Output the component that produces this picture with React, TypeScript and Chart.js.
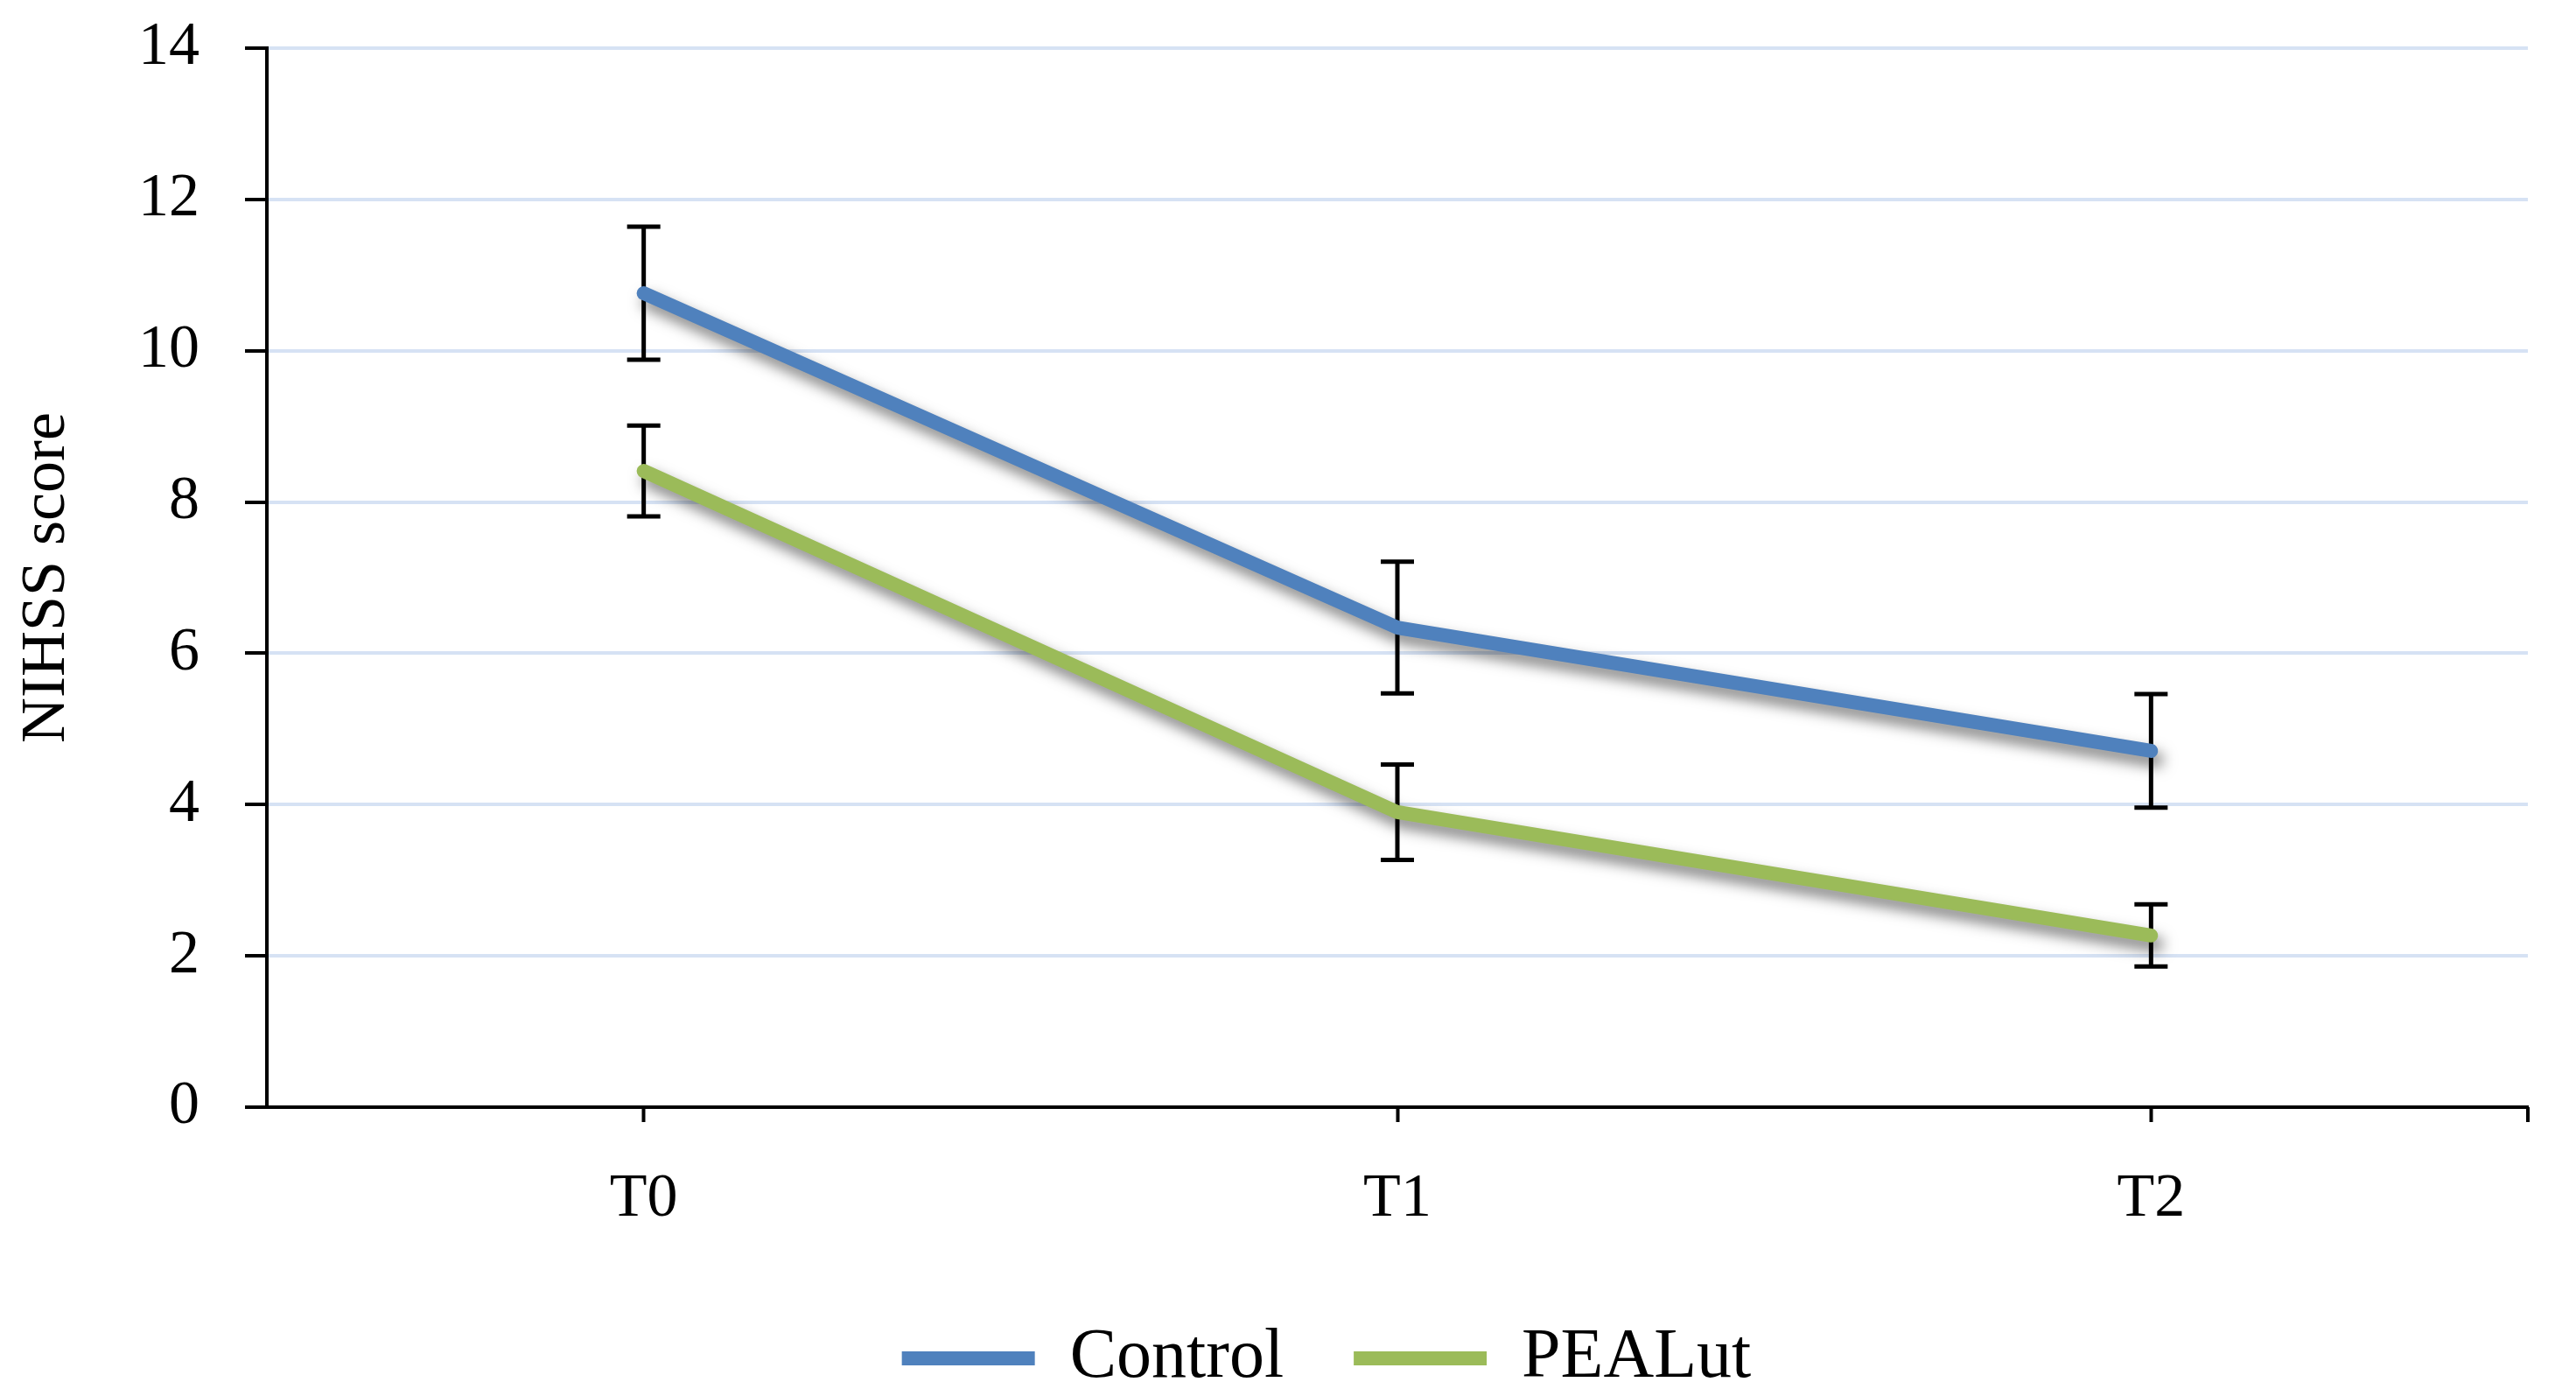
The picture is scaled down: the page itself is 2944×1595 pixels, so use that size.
import React, { useEffect, useRef } from "react";
import { Chart, registerables } from "chart.js";

Chart.register(...registerables);

const categories = ["T0", "T1", "T2"];
const controlMean = [10.76, 6.34, 4.71];
const controlErr = [0.88, 0.87, 0.75];
const pealutMean = [8.41, 3.9, 2.27];
const pealutErr = [0.6, 0.63, 0.41];
const yTicks = [0, 2, 4, 6, 8, 10, 12, 14];

const FONT = "'Liberation Serif', 'Times New Roman', serif";
const BLUE = "#4F81BD";
const GREEN = "#9BBB59";

const errorBarPlugin = {
  id: "errorBarsAndShadow",
  beforeDatasetsDraw(chart: any) {
    const { ctx } = chart;
    const x = chart.scales.x;
    const y = chart.scales.y;
    ctx.save();
    ctx.strokeStyle = "#000";
    ctx.lineWidth = 5;
    const groups: [number[], number[]][] = [
      [controlMean, controlErr],
      [pealutMean, pealutErr],
    ];
    groups.forEach(([means, errs]) => {
      means.forEach((m, i) => {
        const px = x.getPixelForValue(i);
        const top = y.getPixelForValue(m + errs[i]);
        const bot = y.getPixelForValue(m - errs[i]);
        ctx.beginPath();
        ctx.moveTo(px, top);
        ctx.lineTo(px, bot);
        ctx.moveTo(px - 19, top);
        ctx.lineTo(px + 19, top);
        ctx.moveTo(px - 19, bot);
        ctx.lineTo(px + 19, bot);
        ctx.stroke();
      });
    });
    ctx.restore();
    ctx.save();
    ctx.shadowColor = "rgba(0,0,0,0.5)";
    ctx.shadowBlur = 16;
    ctx.shadowOffsetX = 6;
    ctx.shadowOffsetY = 10;
  },
  afterDatasetsDraw(chart: any) {
    chart.ctx.restore();
  },
  afterDraw(chart: any) {
    const { ctx, chartArea } = chart;
    ctx.save();
    ctx.strokeStyle = "#000";
    ctx.lineWidth = 4;
    ctx.beginPath();
    ctx.moveTo(chartArea.right, chartArea.bottom);
    ctx.lineTo(chartArea.right, chartArea.bottom + 17);
    ctx.stroke();
    ctx.restore();
  },
};

export default function App() {
  const ref = useRef<HTMLCanvasElement | null>(null);

  useEffect(() => {
    if (!ref.current) return;
    const chart = new Chart(ref.current, {
      type: "line",
      data: {
        labels: categories,
        datasets: [
          {
            label: "Control",
            data: controlMean,
            borderColor: BLUE,
            backgroundColor: BLUE,
            borderWidth: 16,
            borderCapStyle: "round",
            borderJoinStyle: "round",
            pointRadius: 0,
            pointStyle: "line",
            tension: 0,
          },
          {
            label: "PEALut",
            data: pealutMean,
            borderColor: GREEN,
            backgroundColor: GREEN,
            borderWidth: 16,
            borderCapStyle: "round",
            borderJoinStyle: "round",
            pointRadius: 0,
            pointStyle: "line",
            tension: 0,
          },
        ],
      },
      options: {
        animation: false,
        responsive: true,
        maintainAspectRatio: false,
        layout: { padding: { top: 55, right: 55, left: 143, bottom: 0 } },
        plugins: {
          tooltip: { enabled: false },
          legend: {
            position: "bottom",
            maxHeight: 163,
            labels: {
              usePointStyle: true,
              pointStyleWidth: 152,
              boxHeight: 15,
              padding: 80,
              color: "#000",
              font: { family: FONT, size: 80 },
            },
          },
        },
        scales: {
          x: {
            type: "category",
            offset: true,
            afterFit: (s: any) => {
              s.height = 167;
            },
            grid: {
              display: true,
              drawOnChartArea: false,
              drawTicks: true,
              tickLength: 17,
              tickColor: "#000",
              tickWidth: 4,
              offset: false,
            },
            border: { display: true, color: "#000", width: 4 },
            ticks: {
              color: "#000",
              padding: 47,
              font: { family: FONT, size: 70 },
            },
          },
          y: {
            min: 0,
            max: 14,
            afterFit: (s: any) => {
              s.width = 162;
              s.paddingTop = 0;
              s.paddingBottom = 0;
            },
            afterBuildTicks: (s: any) => {
              s.ticks = yTicks.map((v) => ({ value: v }));
            },
            grid: {
              color: "#D6E2F4",
              lineWidth: 4,
              tickLength: 25,
              tickColor: "#000",
              tickWidth: 4,
            },
            border: { display: true, color: "#000", width: 4 },
            ticks: {
              color: "#000",
              padding: 52,
              font: { family: FONT, size: 70 },
            },
            title: {
              display: true,
              text: "NIHSS score",
              color: "#000",
              font: { family: FONT, size: 72 },
              padding: { top: -132, bottom: 0 },
            },
          },
        },
      },
      plugins: [errorBarPlugin],
    } as any);
    return () => chart.destroy();
  }, []);

  return (
    <div style={{ position: "fixed", left: 0, top: 0, width: "100vw", height: "100vh", background: "#fff" }}>
      <canvas ref={ref} />
    </div>
  );
}
